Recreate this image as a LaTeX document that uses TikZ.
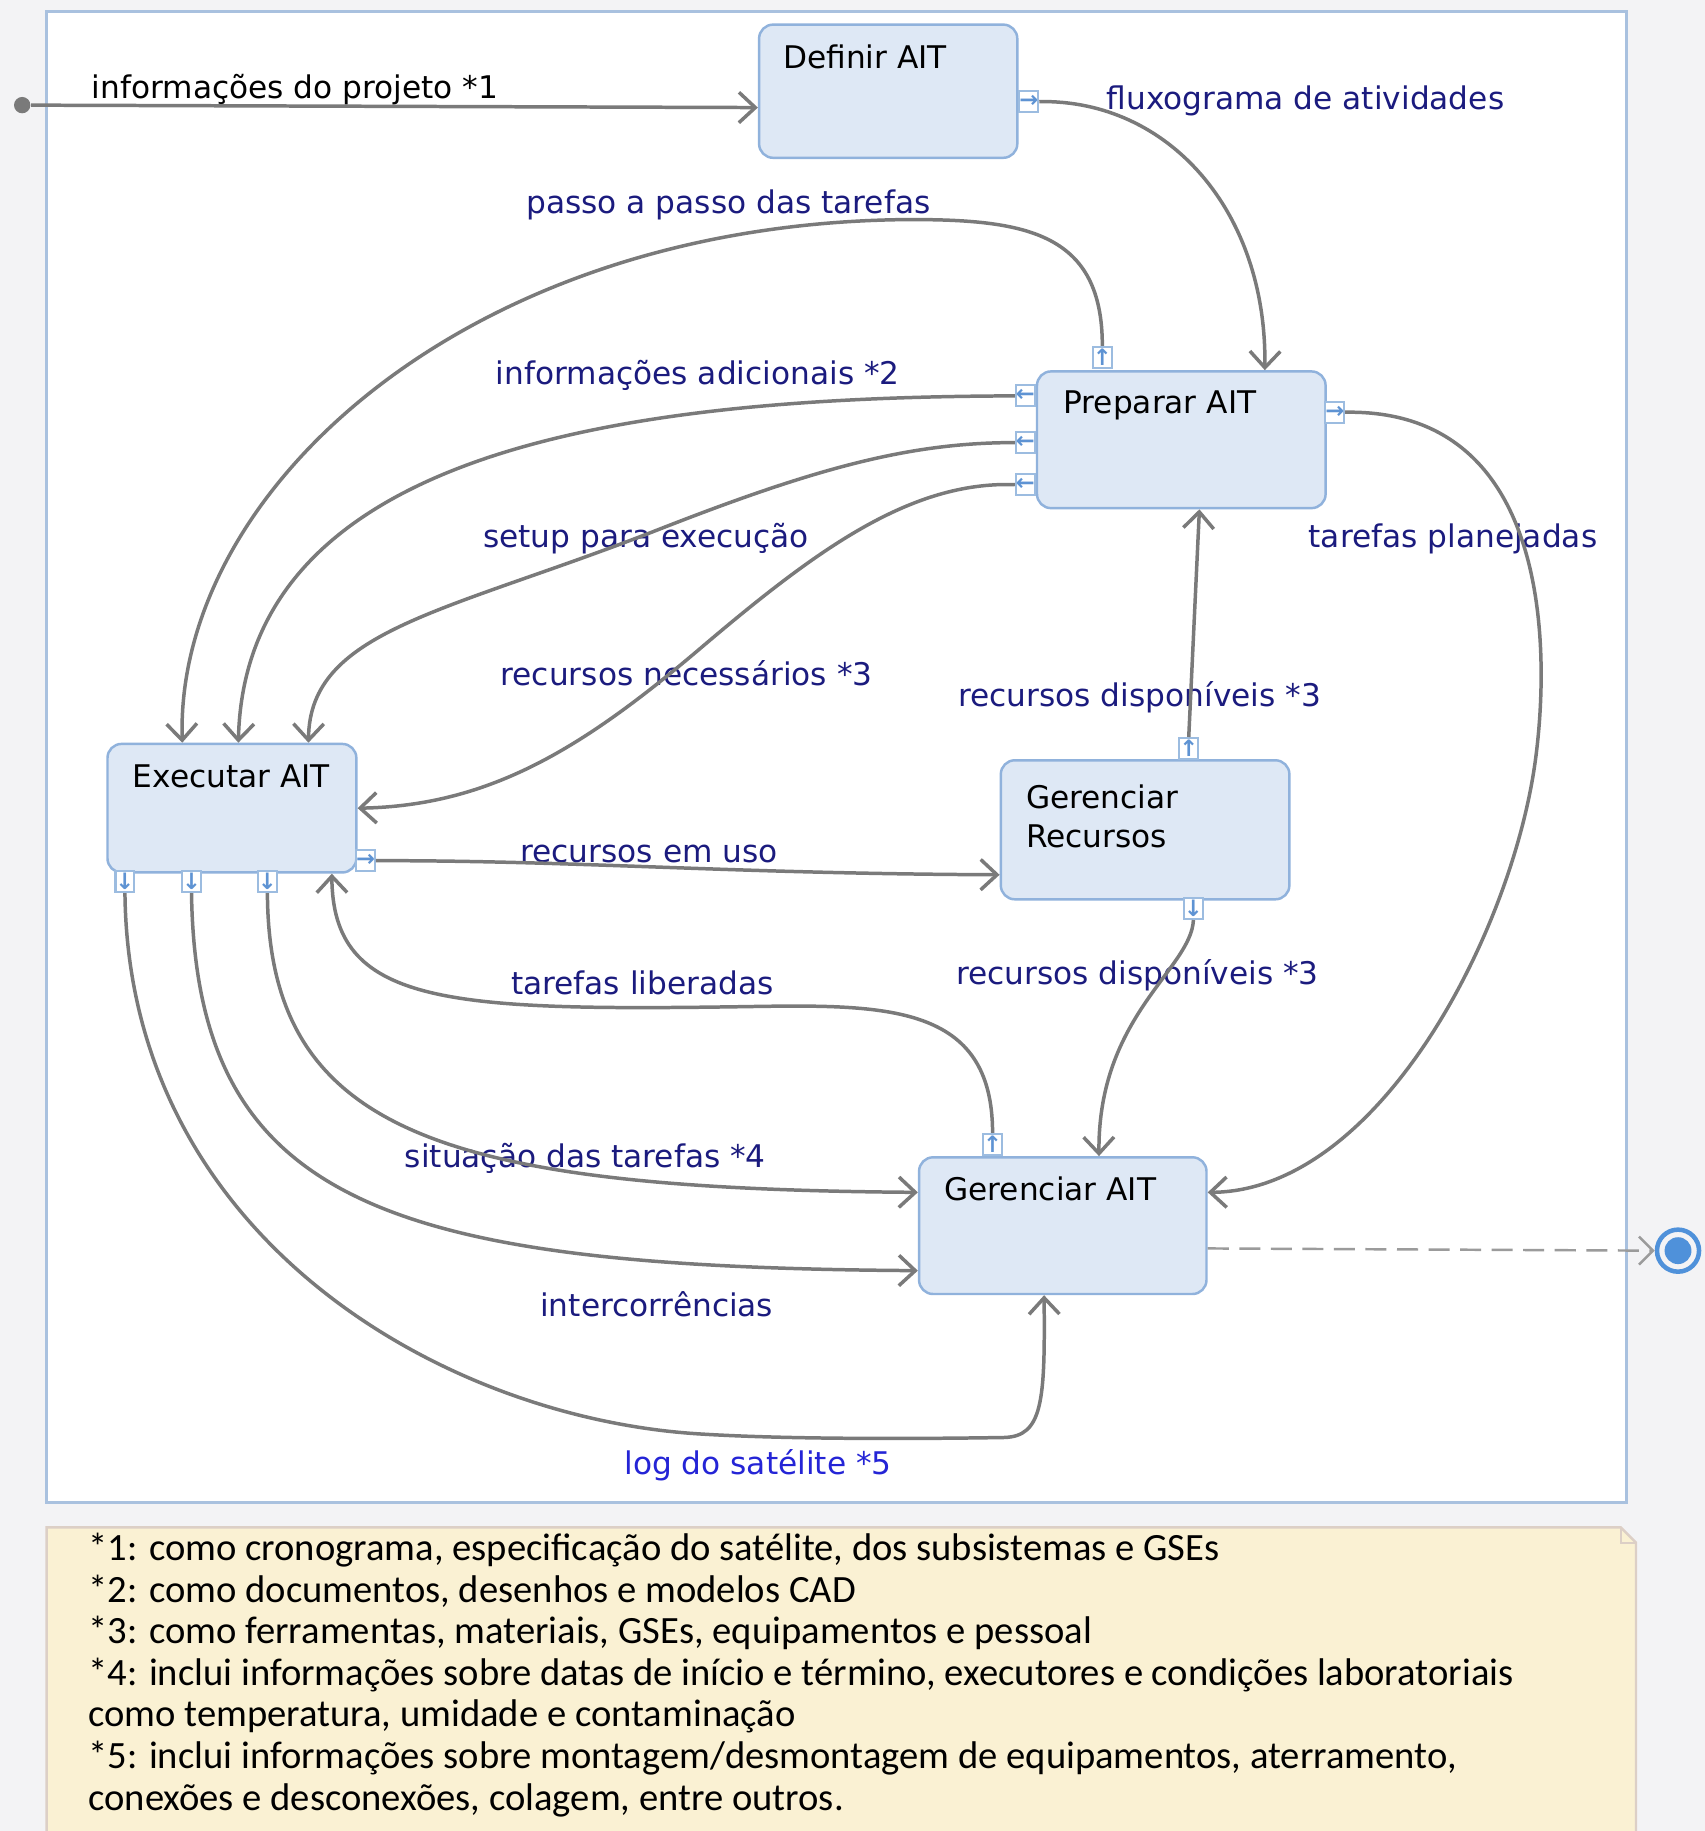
\documentclass[tikz,border=0pt]{standalone}
\usepackage{fontspec}
\setmainfont{DejaVu Sans}
\newfontfamily\notefont{Carlito}
\usetikzlibrary{arrows.meta}

\definecolor{bggray}{HTML}{F3F3F5}
\definecolor{framebl}{HTML}{A9C1DF}
\definecolor{nodefill}{HTML}{DEE8F5}
\definecolor{nodeborder}{HTML}{90B2DC}
\definecolor{portborder}{HTML}{9CBCE0}
\definecolor{portblue}{HTML}{5E93D3}
\definecolor{linegray}{HTML}{7A7A7A}
\definecolor{labelnavy}{HTML}{1B1B7E}
\definecolor{logblue}{HTML}{2424D6}
\definecolor{notefill}{HTML}{FAF1D3}
\definecolor{noteborder}{HTML}{DCCFC6}
\definecolor{finalbl}{HTML}{4F91DA}

\tikzset{
  activity/.style={draw=nodeborder, fill=nodefill, line width=0.6pt, rounded corners=0.12cm, anchor=north west, inner sep=0},
  port/.style={draw=portborder, fill=white, line width=0.5pt, minimum width=0.16cm, minimum height=0.18cm, inner sep=0, text=portblue, font=\bfseries\fontsize{5.5}{6}\selectfont},
  actname/.style={anchor=base west, inner sep=0, font=\fontsize{7.6}{9.6}\selectfont},
  flowlabel/.style={anchor=base west, inner sep=0, text=labelnavy, font=\fontsize{7.6}{9}\selectfont},
  flow/.style={draw=linegray, line width=0.85pt, -{Straight Barb[length=0.14cm, width=0.26cm]}},
}

\begin{document}
\begin{tikzpicture}[x=0.01cm, y=-0.01cm]
\useasboundingbox (0,0) rectangle (1460,1568);
\fill[bggray] (0,0) rectangle (1460,1568);
\filldraw[fill=white, draw=framebl, line width=0.7pt] (40,10) rectangle (1393,1287);

% note
\filldraw[fill=notefill, draw=noteborder, line width=0.6pt] (40,1568) -- (40,1308) -- (1388,1308) -- (1401,1321) -- (1401,1568);
\draw[noteborder, line width=0.5pt] (1388,1308) -- (1388,1321) -- (1401,1321);
\node[anchor=base west, inner sep=0, align=left, font=\notefont\fontsize{9.4}{10.13}\selectfont] (notetext) at (75,1550) {*1: como cronograma, especificação do satélite, dos subsistemas e GSEs\\
*2: como documentos, desenhos e modelos CAD\\
*3: como ferramentas, materiais, GSEs, equipamentos e pessoal\\
*4: inclui informações sobre datas de início e término, executores e condições laboratoriais\\
como temperatura, umidade e contaminação\\
*5: inclui informações sobre montagem/desmontagem de equipamentos, aterramento,\\
conexões e desconexões, colagem, entre outros.};

% activities
\node[activity, minimum width=2.21cm, minimum height=1.14cm] (defin) at (649,20) {};
\node[activity, minimum width=2.47cm, minimum height=1.17cm] (prep) at (887,317) {};
\node[activity, minimum width=2.13cm, minimum height=1.10cm] (exec) at (91,636) {};
\node[activity, minimum width=2.47cm, minimum height=1.19cm] (gerrec) at (856,650) {};
\node[activity, minimum width=2.46cm, minimum height=1.17cm] (gerait) at (786,990) {};
\node[actname] (tdefin) at (670,59) {Definir AIT};
\node[actname] (tprep) at (910,354) {Preparar AIT};
\node[actname] (texec) at (113,674) {Executar AIT};
\node[actname, align=left] (tgerrec) at (878,726) {Gerenciar\\Recursos};
\node[actname] (tgerait) at (808,1028) {Gerenciar AIT};

% ports
\node[port] (pdef) at (881,87) {→};
\node[port] (pprept) at (944,306) {↑};
\node[port] (pprepl1) at (878,339) {←};
\node[port] (pprepl2) at (878,379) {←};
\node[port] (pprepl3) at (878,415) {←};
\node[port] (pprepr) at (1143,353) {→};
\node[port] (pexecr) at (313,737) {→};
\node[port] (pexecb1) at (107,755) {↓};
\node[port] (pexecb2) at (164,755) {↓};
\node[port] (pexecb3) at (229,755) {↓};
\node[port] (precT) at (1018,641) {↑};
\node[port] (precB) at (1022,778) {↓};
\node[port] (paitT) at (850,980) {↑};

% start and end
\node[circle, fill=linegray, minimum size=0.14cm, inner sep=0] (start) at (19,90) {};
\node[circle, draw=finalbl, line width=1.1pt, minimum size=0.36cm, inner sep=0, path picture={\fill[finalbl] (path picture bounding box.center) circle (0.115cm);}] (finish) at (1437,1071) {};

% labels
\node[flowlabel, text=black] (lproj) at (78,84) {informações do projeto *1};
\node[flowlabel] (lflux) at (947,94) {fluxograma de atividades};
\node[flowlabel] (lpasso) at (450,183) {passo a passo das tarefas};
\node[flowlabel] (linfo) at (424,329) {informações adicionais *2};
\node[flowlabel] (lsetup) at (413,469) {setup para execução};
\node[flowlabel] (lplan) at (1120,469) {tarefas planejadas};
\node[flowlabel] (lneces) at (428,587) {recursos necessários *3};
\node[flowlabel] (ldisp1) at (820,605) {recursos disponíveis *3};
\node[flowlabel] (luso) at (445,739) {recursos em uso};
\node[flowlabel] (ldisp2) at (818,843) {recursos disponíveis *3};
\node[flowlabel] (llib) at (437,852) {tarefas liberadas};
\node[flowlabel] (lsit) at (346,1000) {situação das tarefas *4};
\node[flowlabel] (linter) at (462,1127) {intercorrências};
\node[flowlabel, text=logblue] (llog) at (534,1263) {log do satélite *5};

% connectors
\draw[flow] (start) -- ([yshift=-0.14cm]defin.west);
\draw[flow] (pdef.east) .. controls (1000,85) and (1085,180) .. ([xshift=0.715cm]prep.north);
\draw[flow] (pprept.north) .. controls (944,200) and (880,188) .. (780,188) .. controls (400,190) and (150,420) .. ([xshift=-0.425cm]exec.north);
\draw[flow] (pprepl1.west) .. controls (550,340) and (210,380) .. ([xshift=0.055cm]exec.north);
\draw[flow] (pprepl2.west) .. controls (780,379) and (700,400) .. (560,455) .. controls (380,525) and (265,540) .. ([xshift=0.655cm]exec.north);
\draw[flow] (pprepl3.west) .. controls (780,412) and (700,470) .. (600,555) .. controls (500,640) and (420,690) .. (exec.east);
\draw[flow] (pprepr.east) .. controls (1330,350) and (1327,560) .. (1315,650) .. controls (1295,800) and (1180,1020) .. ([yshift=0.285cm]gerait.east);
\draw[flow] (precT.north) -- ([xshift=0.155cm]prep.south);
\draw[flow] (pexecr.east) .. controls (500,737) and (620,748) .. ([yshift=-0.385cm]gerrec.west);
\draw[flow] (precB.south) .. controls (1020,830) and (940,870) .. ([xshift=0.31cm]gerait.north);
\draw[flow] (paitT.north) .. controls (850,860) and (760,860) .. (640,862) .. controls (380,866) and (285,860) .. ([xshift=0.855cm]exec.south);
\draw[flow] (pexecb3.south) .. controls (230,970) and (380,1018) .. ([yshift=0.285cm]gerait.west);
\draw[flow] (pexecb2.south) .. controls (168,1030) and (330,1085) .. ([yshift=-0.385cm]gerait.west);
\draw[flow] (pexecb1.south) .. controls (110,1060) and (380,1215) .. (600,1228) .. controls (680,1233) and (800,1232) .. (860,1231) .. controls (893,1230) and (895,1200) .. ([xshift=-0.16cm]gerait.south);
\draw[linegray!75, line width=0.6pt, dash pattern=on 0.18cm off 0.09cm, -{Straight Barb[length=0.12cm, width=0.24cm]}] ([yshift=-0.195cm]gerait.east) -- (finish.west);
\end{tikzpicture}
\end{document}
